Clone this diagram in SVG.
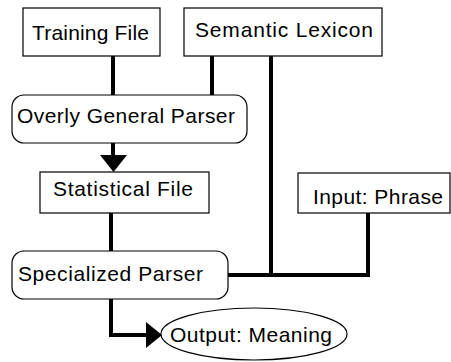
<svg xmlns="http://www.w3.org/2000/svg" width="451" height="362" viewBox="0 0 451 362">
<style>
.box{fill:#fff;stroke:#000;stroke-width:1.2}
.t{font-family:"Liberation Sans",Arial,sans-serif;font-size:21px;fill:#000}
.c{fill:none;stroke:#000;stroke-width:4}
.ah{fill:#000;stroke:none}
</style>
<rect width="451" height="362" fill="#fff"/>
<g id="connectors">
<path class="c" d="M113,56 V95"/>
<path class="c" d="M212,56 V95"/>
<path class="c" d="M271,56 V275"/>
<path class="c" d="M113,143 V158"/>
<polygon class="ah" points="100,155 127,155 113.5,172"/>
<path class="c" d="M111,213 V251"/>
<path class="c" d="M228,275 H368 V213"/>
<path class="c" d="M111,299 V335 H150"/>
<polygon class="ah" points="146,322 146,348 162,335"/>
</g>
<g id="training-file">
<rect class="box" x="23" y="8" width="137" height="48"/>
<text class="t" x="32" y="40" textLength="117">Training File</text>
</g>
<g id="semantic-lexicon">
<rect class="box" x="184" y="8" width="198" height="48"/>
<text class="t" x="195" y="37" textLength="178">Semantic Lexicon</text>
</g>
<g id="overly-general-parser">
<rect class="box" x="12" y="95" width="235" height="48" rx="12"/>
<text class="t" x="17" y="123" textLength="218">Overly General Parser</text>
</g>
<g id="statistical-file">
<rect class="box" x="40" y="172" width="169" height="41"/>
<text class="t" x="53" y="196" textLength="140">Statistical File</text>
</g>
<g id="input-phrase">
<rect class="box" x="298" y="173" width="152" height="40"/>
<text class="t" x="313" y="204" textLength="130">Input: Phrase</text>
</g>
<g id="specialized-parser">
<rect class="box" x="12" y="251" width="216" height="48" rx="12"/>
<text class="t" x="18" y="281" textLength="185">Specialized Parser</text>
</g>
<g id="output-meaning">
<ellipse class="box" cx="254" cy="334" rx="93" ry="26"/>
<text class="t" x="170" y="342" textLength="162">Output: Meaning</text>
</g>
</svg>
